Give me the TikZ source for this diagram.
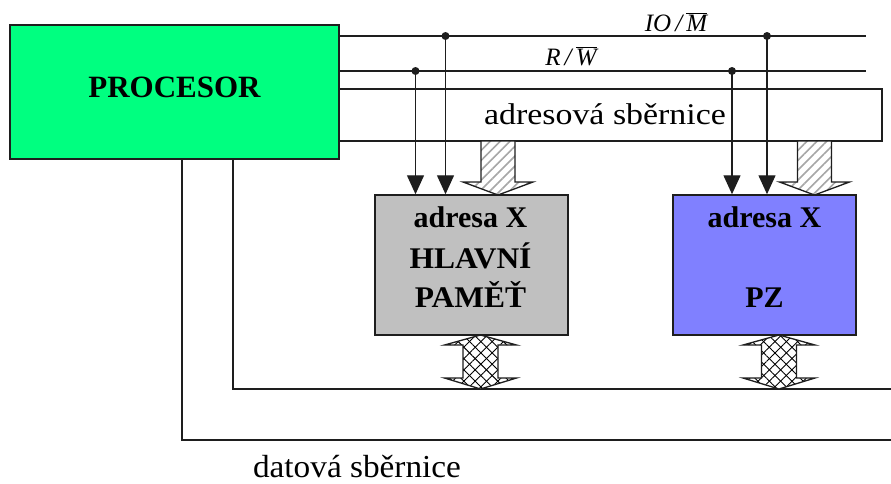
\documentclass[tikz,border=0pt]{standalone}
\usepackage{fontspec}
\setmainfont{Liberation Serif}
\usetikzlibrary{arrows.meta,patterns.meta}
\definecolor{procgreen}{RGB}{0,255,128}
\definecolor{memgray}{RGB}{192,192,192}
\definecolor{pzblue}{RGB}{128,128,255}
\definecolor{linec}{RGB}{30,30,30}
\begin{document}
\begin{tikzpicture}[x=1pt,y=-1pt,line width=1.4pt,draw=linec,
  box/.style={draw=linec,line width=1.5pt,inner sep=0pt,rectangle},
  bustext/.style={font=\fontsize{30}{36}\selectfont},
  boxtext/.style={font=\fontsize{30}{40}\selectfont\bfseries,anchor=base},
  sigtext/.style={font=\fontsize{25}{30}\selectfont\itshape,anchor=base},
  ctl/.style={draw=linec,line width=1.4pt,-{Triangle[width=17pt,length=19pt]}},
  dot/.style={circle,fill=linec,inner sep=0pt,minimum size=8pt},
  addrarrow/.pic={
    \path[fill=white] (-17,-54) -- (17,-54) -- (17,-13) -- (35,-13) -- (0,0) -- (-35,-13) -- (-17,-13) -- cycle;
    \path[pattern={Lines[angle=45,distance=7pt,line width=1.6pt]},pattern color=black!35]
      (-17,-54) -- (17,-54) -- (17,-13) -- (35,-13) -- (0,0) -- (-35,-13) -- (-17,-13) -- cycle;
    \draw[line width=1.3pt,line join=miter] (-17,-54) -- (17,-54) -- (17,-13) -- (35,-13) -- (0,0) -- (-35,-13) -- (-17,-13) -- cycle;
  },
  dataarrow/.pic={
    \path[fill=white] (0,-27) -- (36,-17) -- (17.5,-17) -- (17.5,16) -- (36,16) -- (0,27) -- (-36,16) -- (-17.5,16) -- (-17.5,-17) -- (-36,-17) -- cycle;
    \path[pattern={Lines[angle=45,distance=8pt,line width=0.9pt]},pattern color=black]
      (0,-27) -- (36,-17) -- (17.5,-17) -- (17.5,16) -- (36,16) -- (0,27) -- (-36,16) -- (-17.5,16) -- (-17.5,-17) -- (-36,-17) -- cycle;
    \path[pattern={Lines[angle=-45,distance=8pt,line width=0.9pt]},pattern color=black]
      (0,-27) -- (36,-17) -- (17.5,-17) -- (17.5,16) -- (36,16) -- (0,27) -- (-36,16) -- (-17.5,16) -- (-17.5,-17) -- (-36,-17) -- cycle;
    \draw[line width=1.3pt] (0,-27) -- (36,-17) -- (17.5,-17) -- (17.5,16) -- (36,16) -- (0,27) -- (-36,16) -- (-17.5,16) -- (-17.5,-17) -- (-36,-17) -- cycle;
  }
]
\useasboundingbox (0,0) rectangle (891,483);

% address bus box
\node[box,minimum width=543pt,minimum height=52pt,fill=white] (bus) at (610.5,115) {};
\node[bustext] (bustxt) at (605,114) {\scalebox{1.13}[1]{adresová sběrnice}};

% processor
\node[box,fill=procgreen,minimum width=329pt,minimum height=134pt] (proc) at (174.5,92) {};
\node[boxtext,font=\fontsize{31}{40}\selectfont\bfseries] (proctxt) at (174.5,97) {PROCESOR};

% memories
\node[box,fill=memgray,minimum width=193pt,minimum height=140pt] (mem) at (471.5,265) {};
\node[boxtext] (m1) at (470.5,227) {adresa X};
\node[boxtext] (m2) at (470.5,268) {\scalebox{1.05}[1]{HLAVNÍ}};
\node[boxtext] (m3) at (470.5,307) {\scalebox{1.05}[1]{PAMĚŤ}};

\node[box,fill=pzblue,minimum width=183pt,minimum height=140pt] (pz) at (764.5,265) {};
\node[boxtext] (p1) at (764.5,227) {adresa X};
\node[boxtext] (p2) at (764.5,307) {PZ};

% control lines
\coordinate (io0) at (339,36);
\coordinate (io1) at (866,36);
\coordinate (rw0) at (339,71);
\coordinate (rw1) at (866,71);
\draw (io0) -- (io1);
\draw (rw0) -- (rw1);
\node[sigtext] (iolab) at (676,31) {IO\,/\,\ensuremath{\overline{\hbox{\itshape M}}}};
\node[sigtext] (rwlab) at (571,65) {R\,/\,\ensuremath{\overline{\hbox{\itshape W}}}};

\node[dot] (d1) at (415.5,71) {};
\node[dot] (d2) at (445.5,36) {};
\node[dot] (d3) at (732,71) {};
\node[dot] (d4) at (767,36) {};
\draw[ctl] (d1.center) -- (d1 |- mem.north);
\draw[ctl] (d2.center) -- (d2 |- mem.north);
\draw[ctl] (d3.center) -- (d3 |- pz.north);
\draw[ctl] (d4.center) -- (d4 |- pz.north);

% address bus arrows
\pic at (498,195) {addrarrow};
\pic at (814.5,195) {addrarrow};

% data bus
\coordinate (dA0) at (233,159);
\coordinate (dA1) at (233,389);
\coordinate (dA2) at (891,389);
\coordinate (dB0) at (182,159);
\coordinate (dB1) at (182,440);
\coordinate (dB2) at (891,440);
\draw (dA0) -- (dA1) -- (dA2);
\draw (dB0) -- (dB1) -- (dB2);
\pic at (480.5,362) {dataarrow};
\pic at (779,362) {dataarrow};
\node[font=\fontsize{32}{36}\selectfont,anchor=base] (dlab) at (357,477) {\scalebox{1.04}[1]{datová sběrnice}};
\end{tikzpicture}
\end{document}
